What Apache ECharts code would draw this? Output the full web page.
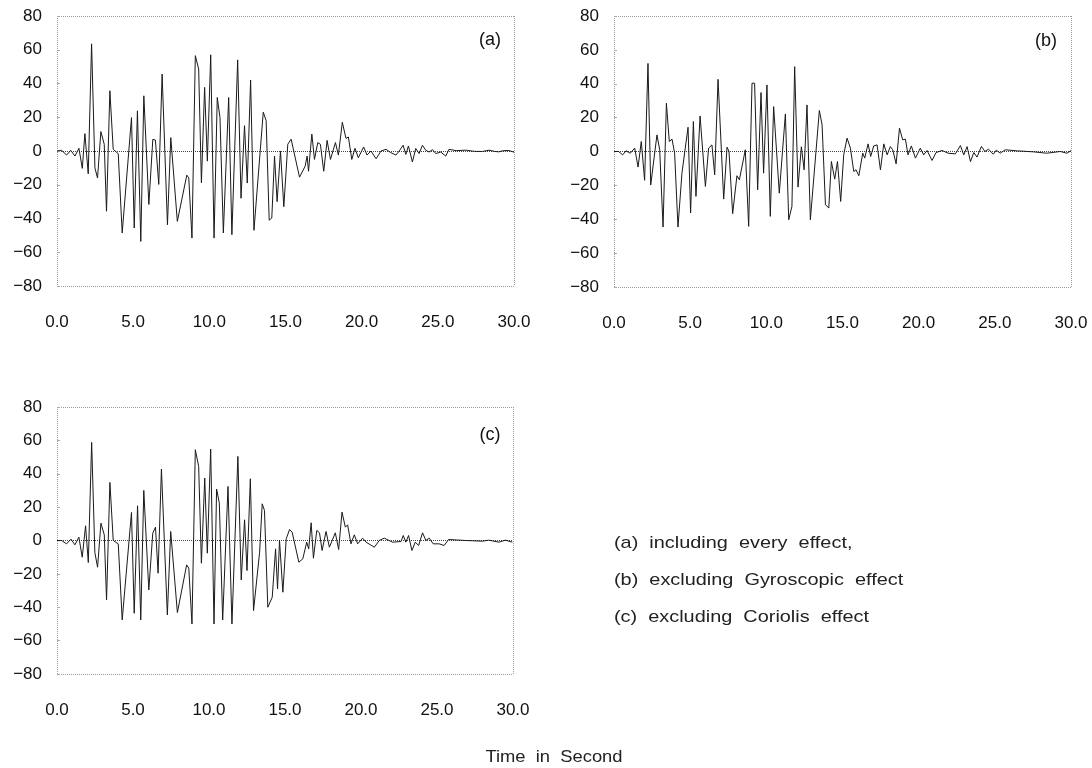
<!DOCTYPE html>
<html lang="en">
<head>
  <meta charset="UTF-8">
  <title>Response time histories</title>
  <script src="https://cdn.jsdelivr.net/npm/echarts@6/dist/echarts.min.js"></script>
  <style>
    html, body { margin: 0; padding: 0; background: #fff; }
    #main { width: 1092px; height: 768px; }
  </style>
</head>
<body>
<div id="main"></div>
<script>
  // [time (s), response]
  var seriesA = [
    [0,0],[0.3,0.4],[0.63,-2.4],[0.9,0.4],[1.18,-3],[1.44,1.6],[1.66,-10.3],[1.83,10.3],[2.05,-13.5],[2.27,63.5],
    [2.49,-10],[2.66,-16],[2.88,11.5],[3.1,4],[3.25,-35.7],[3.47,35.7],[3.69,1],[4.02,-1.6],[4.28,-48.6],[4.89,19.8],
    [5.07,-45.6],[5.28,23.8],[5.5,-53.6],[5.7,32.7],[6.03,-31.7],[6.29,6.9],[6.46,6.5],[6.68,-19.8],[6.9,45.6],[7.25,-43.7],
    [7.47,7.9],[7.9,-41.7],[8.52,-14.3],[8.65,-15.9],[8.86,-51.6],[9.08,56.5],[9.3,48.6],[9.48,-18.8],[9.69,37.7],[9.87,-6],
    [10.09,57],[10.31,-51.6],[10.52,31.7],[10.7,19.8],[10.92,-48.6],[11.27,31.7],[11.48,-49.6],[11.86,54],[12.08,-28],[12.31,15],
    [12.49,-19],[12.71,42],[12.93,-47],[13.54,23],[13.73,18],[13.93,-41],[14.1,-39.7],[14.28,-3],[14.45,-30],[14.67,0],
    [14.89,-33],[15.15,4],[15.37,7],[15.92,-15.5],[16.29,-9],[16.42,-3],[16.51,-12],[16.73,10],[16.9,-5],[17.12,5],
    [17.29,4],[17.51,-12],[17.73,6.3],[17.95,-5],[18.28,5],[18.47,-2.4],[18.73,17],[18.97,7.5],[19.13,8.3],[19.35,-5],
    [19.56,1.6],[19.78,-4],[20.13,2.4],[20.35,-2.4],[20.61,0],[20.95,-4.6],[21.27,0],[21.6,1],[21.92,-1],[22.25,-2.4],
    [22.47,0],[22.72,3.4],[22.9,-2],[23.07,3],[23.33,-6.5],[23.55,1.5],[23.77,-1.5],[23.99,3.4],[24.21,0.4],[24.43,-0.6],
    [24.65,0.8],[24.86,-1.5],[25.19,-0.6],[25.52,-3],[25.73,1],[26.2,0.2],[26.83,0.5],[27.4,-0.2],[27.92,-0.3],[28.36,0.5],
    [28.7,-0.2],[29.0,-0.5],[29.3,0.2],[29.66,0.3],[30,-0.7]
  ];
  var seriesB = [
    [0,0],[0.3,0],[0.57,-2],[0.79,0.4],[1.07,-1],[1.36,2],[1.58,-9.2],[1.79,5.9],[2.01,-17],[2.23,52],
    [2.41,-19.8],[2.82,9.8],[3.0,1],[3.22,-44.6],[3.44,28.5],[3.63,5.9],[3.81,7.3],[3.98,-1],[4.2,-44.6],[4.46,-12.8],
    [4.86,14.3],[5.03,-36.3],[5.21,17.7],[5.38,-26.5],[5.65,21],[6.0,-20.6],[6.21,2],[6.43,3.9],[6.61,-13.8],[6.83,42.6],
    [7.2,-28.1],[7.42,2.6],[7.55,0],[7.79,-36.7],[8.07,-14.3],[8.23,-16.7],[8.62,1],[8.84,-44.2],[9.06,40.3],[9.23,40.3],
    [9.43,-22.6],[9.65,34.8],[9.82,-12.8],[10.04,39.3],[10.26,-38.3],[10.48,26.5],[10.85,-24.6],[11.25,22.2],[11.47,-40.3],[11.68,-32.4],
    [11.86,50.1],[12.08,-21],[12.3,2.8],[12.48,-10.8],[12.67,27.5],[12.89,-40.3],[13.48,24.2],[13.66,15.7],[13.88,-31.4],[14.1,-33.4],
    [14.27,-5.9],[14.49,-16.3],[14.67,-5.9],[14.88,-29.5],[15.08,-2],[15.3,7.9],[15.52,2],[15.74,-11.8],[15.89,-10.8],[16.07,-14.3],
    [16.33,-1],[16.46,-3.9],[16.68,4.5],[16.85,-2.9],[17.05,3.3],[17.27,3.9],[17.49,-10.8],[17.71,4.5],[17.93,-2],[18.14,2.9],
    [18.3,1],[18.52,-7.3],[18.74,13.8],[18.95,6.9],[19.13,7.3],[19.3,-2],[19.52,3.3],[19.79,-3.9],[20.11,2],[20.33,-2],
    [20.55,0.6],[20.88,-5.3],[21.14,-0.6],[21.54,0.6],[21.93,-1],[22.41,-1.4],[22.74,3.5],[22.96,-2],[23.18,2.9],[23.4,-6],
    [23.62,-0.6],[23.83,-3.3],[24.12,3],[24.35,0],[24.58,1.4],[24.9,-1.6],[25.1,0.8],[25.35,-1],[25.68,1],[26.44,0.4],
    [27.53,-0.2],[28.4,-1],[29.3,0],[29.73,-1],[30,0.4]
  ];
  var seriesC = [
    [0,0],[0.3,0],[0.63,-2],[0.92,0.8],[1.18,-2.6],[1.44,2],[1.66,-10],[1.88,8.8],[2.06,-13.2],[2.28,58.8],
    [2.49,-7.2],[2.67,-16],[2.89,10.4],[3.11,3.4],[3.26,-35.6],[3.48,34.8],[3.7,0],[4.03,-2],[4.29,-47.6],[4.9,16.8],
    [5.08,-43.6],[5.3,20.8],[5.51,-47.6],[5.71,30],[6.04,-29.6],[6.3,4.4],[6.48,8],[6.65,-19.6],[6.87,42.8],[7.26,-44.6],
    [7.48,5.4],[7.92,-43.2],[8.53,-14.6],[8.67,-16.6],[8.88,-50],[9.1,54.4],[9.32,44.4],[9.5,-13.6],[9.72,37.4],[9.89,-7.6],
    [10.11,54.8],[10.33,-50],[10.5,30.8],[10.68,22.4],[10.9,-47.6],[11.25,32.4],[11.51,-50],[11.9,50.4],[12.12,-23.6],[12.34,12.4],
    [12.5,-18],[12.72,37],[12.93,-42],[13.33,-7],[13.5,22],[13.65,18],[13.87,-40],[14.16,-34],[14.38,-5],[14.51,-29],
    [14.64,0],[14.86,-31],[15.08,1],[15.3,6.6],[15.47,5],[15.91,-13],[16.17,-11],[16.43,-1],[16.56,-5],[16.72,10.6],
    [16.87,-10.6],[17.09,6],[17.27,4.6],[17.44,-6],[17.7,5.4],[17.92,-4],[18.31,4.6],[18.53,-5.4],[18.75,17],[18.97,8],
    [19.12,9.4],[19.34,-2],[19.56,3.4],[19.78,-2],[20.11,1.4],[20.33,-1],[20.88,-4],[21.2,0],[21.53,1.4],[22.08,-1],
    [22.63,-0.6],[22.78,3],[22.95,-1],[23.13,3],[23.35,-6],[23.57,-1],[23.79,-3],[24.05,4.6],[24.27,0],[24.49,1.4],
    [24.75,-2],[25.14,-2],[25.47,-3],[25.76,0.6],[26.9,0],[28.0,-0.4],[28.4,0.2],[29.08,-1],[29.5,0.2],[29.96,-1]
  ];
  var panelTags = ['(a)', '(b)', '(c)'];
  var legendLines = [
    '(a)  including  every  effect,',
    '(b)  excluding  Gyroscopic  effect',
    '(c)  excluding  Coriolis  effect'
  ];
  var xTitle = 'Time  in  Second';

  var FONT = 'Liberation Sans, Arial, sans-serif';
  var grids = [
    { left: 57, top: 16, width: 457, height: 270 },
    { left: 614, top: 16, width: 457, height: 271 },
    { left: 57, top: 407, width: 456, height: 267 }
  ];
  var allData = [seriesA, seriesB, seriesC];

  var xAxes = [], yAxes = [], series = [];
  grids.forEach(function (g, i) {
    xAxes.push({
      type: 'value', gridIndex: i, min: 0, max: 30, interval: 5,
      axisLine: { show: false }, axisTick: { show: false },
      axisLabel: {
        margin: 28, fontSize: 17, color: '#111', fontFamily: FONT,
        formatter: function (v) { return v.toFixed(1); }
      },
      splitLine: {
        show: true,
        lineStyle: { type: 'dotted', width: 1,
          color: ['#999', 'transparent', 'transparent', 'transparent', 'transparent', 'transparent', '#999'] }
      }
    });
    yAxes.push({
      type: 'value', gridIndex: i, min: -80, max: 80, interval: 20,
      axisLine: { show: false },
      axisTick: { show: true, inside: true, length: 3, lineStyle: { color: '#aaa' } },
      axisLabel: {
        margin: 15, fontSize: 17, color: '#111', fontFamily: FONT,
        formatter: function (v) { return v < 0 ? '\u2212' + Math.abs(v) : String(v); }
      },
      splitLine: {
        show: true,
        lineStyle: { type: 'dotted', width: 1,
          color: ['#999', 'transparent', 'transparent', 'transparent', '#444', 'transparent', 'transparent', 'transparent', '#999'] }
      }
    });
    series.push({
      type: 'line', xAxisIndex: i, yAxisIndex: i,
      data: allData[i], showSymbol: false, smooth: false,
      lineStyle: { color: '#1a1a1a', width: 1 },
      animation: false
    });
  });

  var graphics = [];
  var tagPos = [[490, 40], [1046, 41], [490, 435]];
  panelTags.forEach(function (t, i) {
    graphics.push({
      type: 'text', x: tagPos[i][0], y: tagPos[i][1],
      style: { text: t, fontSize: 18, fontFamily: FONT, fill: '#111', align: 'center', verticalAlign: 'middle' }
    });
  });
  legendLines.forEach(function (t, i) {
    graphics.push({
      type: 'text', x: 614, y: 543 + i * 37, scaleX: 1.17,
      style: { text: t, fontSize: 17, fontFamily: FONT, fill: '#222', align: 'left', verticalAlign: 'middle' }
    });
  });
  graphics.push({
    type: 'text', x: 554, y: 757, scaleX: 1.08,
    style: { text: xTitle, fontSize: 17, fontFamily: FONT, fill: '#222', align: 'center', verticalAlign: 'middle' }
  });

  var myChart = echarts.init(document.getElementById('main'));
  myChart.setOption({
    animation: false,
    backgroundColor: '#fff',
    grid: grids,
    xAxis: xAxes,
    yAxis: yAxes,
    series: series,
    graphic: graphics
  });
</script>
</body>
</html>
